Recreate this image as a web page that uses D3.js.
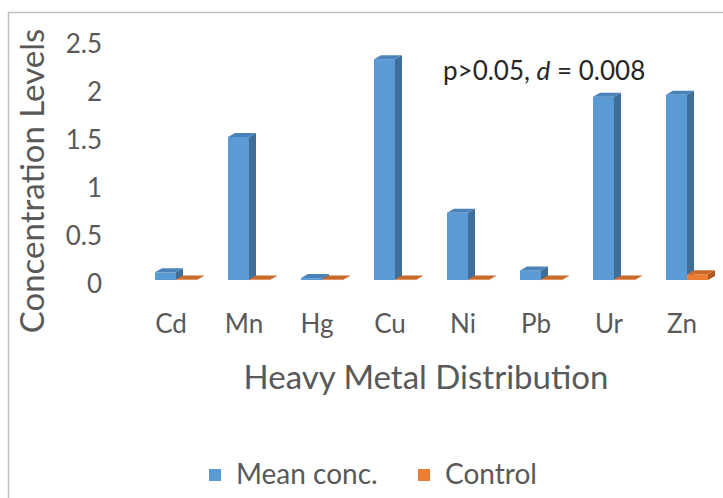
<!DOCTYPE html>
<html>
<head>
<meta charset="utf-8">
<script src="https://cdn.jsdelivr.net/npm/d3@7"></script>
<style>
  body { margin: 0; background: #fff; }
  text { font-family: Lato, "Open Sans", sans-serif; fill: #595959; }
</style>
</head>
<body>
<div id="chart"></div>
<script>
const metals = ["Cd", "Mn", "Hg", "Cu", "Ni", "Pb", "Ur", "Zn"];
const meanConc = [0.08, 1.49, 0.02, 2.3, 0.7, 0.1, 1.91, 1.93];
const control = [0.005, 0.005, 0.005, 0.005, 0.005, 0.005, 0.005, 0.06];
const yTicks = [0, 0.5, 1, 1.5, 2, 2.5];
const seriesNames = ["Mean conc.", "Control"];

const width = 723,
  height = 498;

// face colours: front, side, top
const colors = {
  "Mean conc.": { front: "#5b9bd5", side: "#3f6e99", top: "#4a83b9" },
  Control: { front: "#ed7d31", side: "#a95a24", top: "#c9692a" },
};
const depth = { dx: 7, dy: -4 };

const svg = d3
  .select("#chart")
  .append("svg")
  .attr("width", width)
  .attr("height", height);

// chart frame
svg
  .append("path")
  .attr("d", `M8.5,${height} V12.5 H${width}`)
  .attr("fill", "none")
  .attr("stroke", "#bfbfbf")
  .attr("stroke-width", 1.5);

const x = d3
  .scaleBand()
  .domain(metals)
  .range([139.5, 723.5])
  .paddingInner(0.4247)
  .paddingOuter(0.2123);

const xs = d3.scaleBand().domain(seriesNames).range([0, x.bandwidth()]);

const y = d3.scaleLinear().domain([0, 2.5]).range([280, 40]);

const rows = metals.map((m, i) => ({
  metal: m,
  values: [
    { key: "Mean conc.", value: meanConc[i] },
    { key: "Control", value: control[i] },
  ],
}));

// 3D columns
rows.forEach((row) => {
  row.values.forEach((v) => {
    const x0 = x(row.metal) + xs(v.key),
      x1 = x0 + xs.bandwidth(),
      y0 = y(0),
      y1 = y(v.value);
    const c = colors[v.key];
    const g = svg.append("g");
    g.append("rect")
      .attr("x", x0)
      .attr("y", y1)
      .attr("width", x1 - x0)
      .attr("height", Math.max(0.5, y0 - y1))
      .attr("fill", c.front);
    g.append("path")
      .attr(
        "d",
        `M${x1},${y0} L${x1 + depth.dx},${y0 + depth.dy} L${x1 + depth.dx},${
          y1 + depth.dy
        } L${x1},${y1} Z`
      )
      .attr("fill", c.side);
    g.append("path")
      .attr(
        "d",
        `M${x0},${y1} L${x0 + depth.dx},${y1 + depth.dy} L${x1 + depth.dx},${
          y1 + depth.dy
        } L${x1},${y1} Z`
      )
      .attr("fill", c.top);
  });
});

// y tick labels
svg
  .append("g")
  .selectAll("text")
  .data(yTicks)
  .enter()
  .append("text")
  .attr("x", 102)
  .attr("y", (d) => y(d) + 4)
  .attr("dy", "0.35em")
  .attr("text-anchor", "end")
  .style("font-size", "26px")
  .text((d) => d);

// category labels
svg
  .append("g")
  .selectAll("text")
  .data(metals)
  .enter()
  .append("text")
  .attr("x", (d) => x(d) + 16)
  .attr("y", 333)
  .attr("text-anchor", "middle")
  .style("font-size", "26px")
  .text((d) => d);

// axis titles
svg
  .append("text")
  .attr("x", 426)
  .attr("y", 389)
  .attr("text-anchor", "middle")
  .style("font-size", "33px")
  .text("Heavy Metal Distribution");

svg
  .append("text")
  .attr("transform", "translate(44,181) rotate(-90)")
  .attr("text-anchor", "middle")
  .style("font-size", "33px")
  .text("Concentration Levels");

// annotation
const note = svg
  .append("text")
  .attr("x", 443)
  .attr("y", 80)
  .style("font-size", "26px")
  .style("fill", "#262626");
note.append("tspan").text("p>0.05, ");
note.append("tspan").style("font-style", "italic").text("d");
note.append("tspan").text(" = 0.008");

// legend
const legend = svg.append("g");
const legendX = [209, 418];
seriesNames.forEach((s, i) => {
  legend
    .append("rect")
    .attr("x", legendX[i])
    .attr("y", 469)
    .attr("width", 12)
    .attr("height", 12)
    .attr("fill", colors[s].front);
  legend
    .append("text")
    .attr("x", legendX[i] + 27)
    .attr("y", 484)
    .style("font-size", "28px")
    .text(s);
});
</script>
</body>
</html>
